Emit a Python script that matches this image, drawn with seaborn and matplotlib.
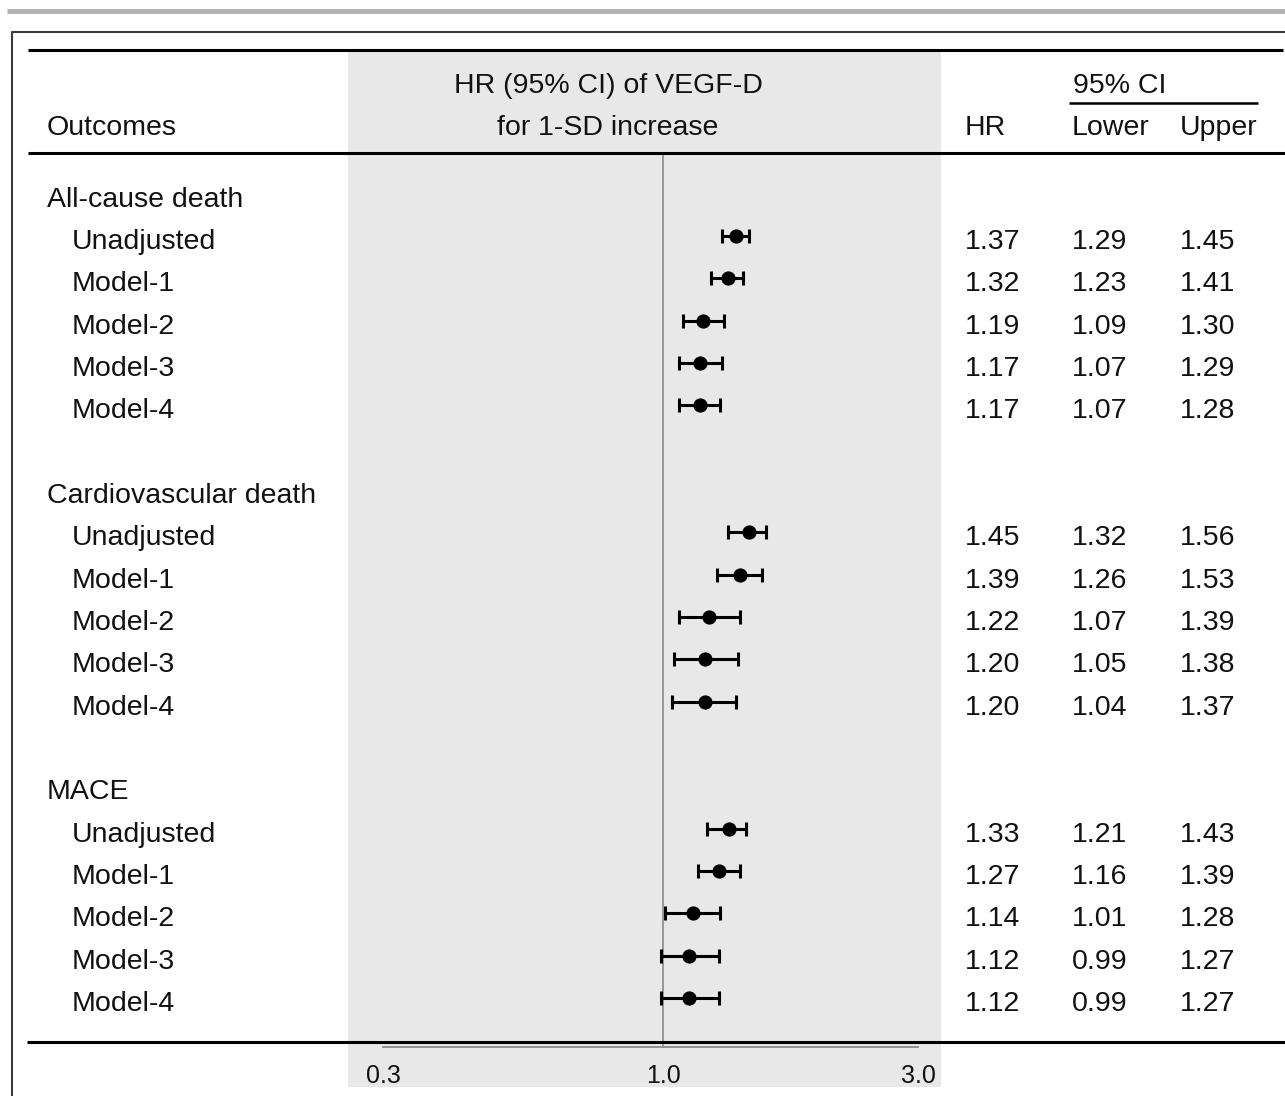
import numpy as np
import pandas as pd
import matplotlib
matplotlib.use("Agg")
import matplotlib.pyplot as plt
from matplotlib.ticker import NullLocator
from matplotlib.transforms import blended_transform_factory, offset_copy
import seaborn as sns

# ---- data -------------------------------------------------------------
groups = ["All-cause death", "Cardiovascular death", "MACE"]
models = ["Unadjusted", "Model-1", "Model-2", "Model-3", "Model-4"]

hr_all = [1.37, 1.32, 1.19, 1.17, 1.17]
lo_all = [1.29, 1.23, 1.09, 1.07, 1.07]
up_all = [1.45, 1.41, 1.30, 1.29, 1.28]

hr_cv = [1.45, 1.39, 1.22, 1.20, 1.20]
lo_cv = [1.32, 1.26, 1.07, 1.05, 1.04]
up_cv = [1.56, 1.53, 1.39, 1.38, 1.37]

hr_mace = [1.33, 1.27, 1.14, 1.12, 1.12]
lo_mace = [1.21, 1.16, 1.01, 0.99, 0.99]
up_mace = [1.43, 1.39, 1.28, 1.27, 1.27]

x_ticks = [0.3, 1.0, 3.0]
x_tick_labels = ["0.3", "1.0", "3.0"]

# ---- long table: one row per model, group titles occupy their own row --
records = []
group_rows = []
row = 0
for g, hr, lo, up in zip(groups, [hr_all, hr_cv, hr_mace],
                         [lo_all, lo_cv, lo_mace], [up_all, up_cv, up_mace]):
    group_rows.append(row)
    for k, m in enumerate(models):
        records.append(dict(outcome=g, model=m, hr=hr[k], lower=lo[k],
                            upper=up[k], row=row + 1 + k))
    row += len(models) + 2
df = pd.DataFrame(records)

# ---- style ------------------------------------------------------------
sns.set_style("white")
plt.rcParams["font.family"] = ["Liberation Sans", "DejaVu Sans"]
FS = 20.5
TXT = "#111111"

W, H = 1285, 1096
fig = plt.figure(figsize=(W / 100, H / 100), dpi=100)
fig.patch.set_facecolor("white")


def px_rect(x0, y0, x1, y1):
    return [x0 / W, 1 - y1 / H, (x1 - x0) / W, (y1 - y0) / H]


# forest panel
ax = fig.add_axes(px_rect(348, 52, 941, 1087))
ax.set_facecolor("#e8e8e8")

ax.errorbar(df["hr"], df["row"],
            xerr=[df["hr"] - df["lower"], df["upper"] - df["hr"]],
            fmt="none", ecolor="black", elinewidth=2.2,
            capsize=5, capthick=2.2, zorder=3)
sns.scatterplot(data=df, x="hr", y="row", ax=ax, color="black",
                edgecolor="black", s=105, linewidth=0, zorder=4, legend=False)

ax.set_xscale("log")
ax.set_xlim(0.2577, 3.308)
ax.set_ylim(21.104, -3.347)
ax.set_xlabel("")
ax.set_ylabel("")
ax.set_yticks([])

spine_frac = (1087 - 1047) / 1035
ax.axvline(1.0, ymin=spine_frac, ymax=(1087 - 153) / 1035,
           color="#8a8a8a", lw=1.2, zorder=2)

for s in ["left", "top", "right"]:
    ax.spines[s].set_visible(False)
ax.spines["bottom"].set_position(("axes", spine_frac))
ax.spines["bottom"].set_bounds(x_ticks[0], x_ticks[-1])
ax.spines["bottom"].set_color("#8c8c8c")
ax.spines["bottom"].set_linewidth(1.3)
ax.set_xticks(x_ticks)
ax.set_xticklabels(x_tick_labels)
ax.xaxis.set_minor_locator(NullLocator())
ax.tick_params(axis="x", direction="out", length=5.5, width=1.3,
               color="#8c8c8c", labelsize=18, labelcolor=TXT, pad=7)

# table layer on top
tab = fig.add_axes([0, 0, 1, 1])
tab.set_xlim(0, W)
tab.set_ylim(H, 0)
tab.axis("off")
tab.patch.set_visible(False)

# outer rule and frame
tab.plot([7, W], [10.5, 10.5], color="#b4b4b4", lw=3.6, solid_capstyle="butt")
tab.plot([12, 12, W], [H, 32, 32], color="#3a3a3a", lw=1.5)
# table rules
tab.plot([28, 1283], [50, 50], color="black", lw=2.2, solid_capstyle="butt")
tab.plot([28, W], [153, 153], color="black", lw=2.2, solid_capstyle="butt")
tab.plot([27, W], [1042, 1042], color="black", lw=2.2, solid_capstyle="butt")
tab.plot([1069, 1258], [103, 103], color="black", lw=1.8, solid_capstyle="butt")

# headers
hdr_tr = offset_copy(tab.transData, fig=fig, x=0, y=-3, units="dots")
hdr = dict(fontsize=FS, color=TXT, va="center", transform=hdr_tr)
tab.text(47, 125, "Outcomes", ha="left", **hdr)
tab.text(608, 83, "HR (95% CI) of VEGF-D", ha="center", **hdr)
tab.text(608, 125, "for 1-SD increase", ha="center", **hdr)
tab.text(965, 125, "HR", ha="left", **hdr)
tab.text(1073, 83, "95% CI", ha="left", **hdr)
tab.text(1072, 125, "Lower", ha="left", **hdr)
tab.text(1180, 125, "Upper", ha="left", **hdr)

# row labels and value columns (y follows the forest panel rows)
tr = offset_copy(blended_transform_factory(tab.transData, ax.transData),
                 fig=fig, x=0, y=-6, units="dots")
cell = dict(fontsize=FS, color=TXT, va="center", ha="left", transform=tr)
for g, r in zip(groups, group_rows):
    tab.text(47, r, g, **cell)
for _, rec in df.iterrows():
    tab.text(72, rec["row"], rec["model"], **cell)
    tab.text(965, rec["row"], f"{rec['hr']:.2f}", **cell)
    tab.text(1072, rec["row"], f"{rec['lower']:.2f}", **cell)
    tab.text(1180, rec["row"], f"{rec['upper']:.2f}", **cell)

fig.savefig("out.png", dpi=100)
